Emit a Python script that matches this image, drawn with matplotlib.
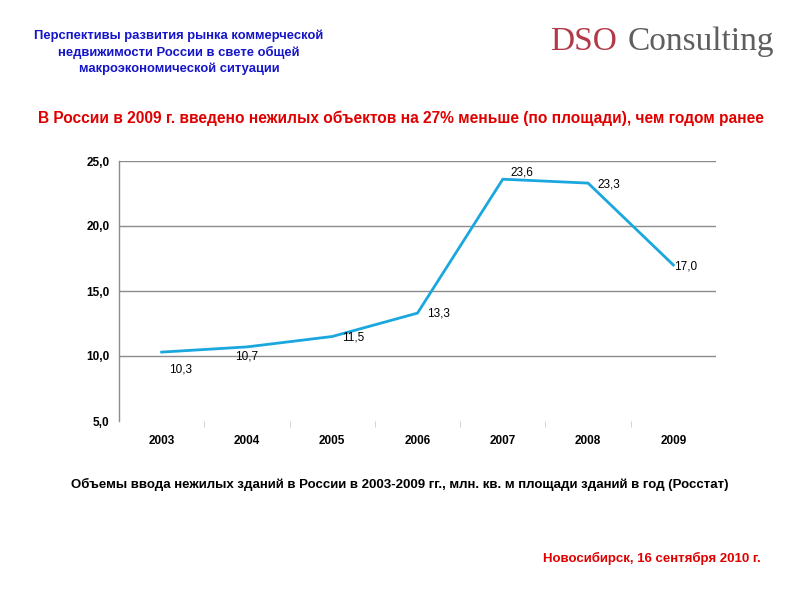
import matplotlib
matplotlib.use("Agg")
import matplotlib.pyplot as plt
import numpy as np

years = ["2003", "2004", "2005", "2006", "2007", "2008", "2009"]
values = [10.3, 10.7, 11.5, 13.3, 23.6, 23.3, 17.0]
value_labels = ["10,3", "10,7", "11,5", "13,3", "23,6", "23,3", "17,0"]
yticks = [5.0, 10.0, 15.0, 20.0, 25.0]
ytick_labels = ["5,0", "10,0", "15,0", "20,0", "25,0"]

# label offsets in pixels (dx, dy up)
offsets_px = [(19, -17), (0, -10), (21, -1), (21, 0), (19, 7), (21, -1.5), (12, -1.5)]

plt.rcParams['font.family'] = ['Liberation Sans', 'DejaVu Sans']

fig = plt.figure(figsize=(8, 6), dpi=100)
fig.patch.set_facecolor('white')
ax = fig.add_axes([119/800, 1-421/600, (716-119)/800, (421-161)/600])

x = np.arange(len(years))
ax.plot(x, values, color='#1AA7DD', linewidth=2, solid_joinstyle='miter')

for xi, v, lab, (dx, dy) in zip(x, values, value_labels, offsets_px):
    ax.annotate(lab, (xi, v), xytext=(dx*0.72, dy*0.72), textcoords='offset points',
                ha='center', va='center', fontsize=8.5, color='black')

ax.set_xlim(-0.5, len(years)-0.5)
ax.set_ylim(5, 25)
ax.set_yticks(yticks)
ax.set_yticklabels(ytick_labels, fontsize=8.5, fontweight='bold')
ax.set_xticks(x)
ax.set_xticklabels(years, fontsize=8.5, fontweight='bold')
ax.set_xticks(np.arange(0.5, len(years)-1, 1), minor=True)
ax.tick_params(axis='y', length=0, pad=7)
ax.tick_params(axis='x', which='major', length=0, pad=10)
ax.tick_params(axis='x', which='minor', length=4, color='#CCCCCC', direction='out')
for yt in yticks[1:]:
    ax.axhline(yt, color='#8C8C8C', linewidth=1, zorder=0)
for s in ['top', 'right', 'bottom']:
    ax.spines[s].set_visible(False)
ax.spines['left'].set_color('#8C8C8C')
ax.spines['left'].set_linewidth(1)

# Header title
fig.text(179/800, 1-52/600, "Перспективы развития рынка коммерческой\nнедвижимости России в свете общей\nмакроэкономической ситуации",
         ha='center', va='center', fontsize=9.4, fontweight='bold', color='#1414C8', linespacing=1.37)

# Logo
fig.text(550/800, 1-42/600, "DSO", ha='left', va='center', fontsize=24,
         family=['Liberation Serif', 'DejaVu Serif'], color='#B23A48')
fig.text(628/800, 1-42/600, "Consulting", ha='left', va='center', fontsize=24,
         family=['Liberation Serif', 'DejaVu Serif'], color='#5F5F5F')

# Red subtitle
fig.text(401/800, 1-118/600, "В России в 2009 г. введено нежилых объектов на 27% меньше (по площади), чем годом ранее",
         ha='center', va='center', fontsize=11.2, fontweight='bold', color='#E00000')

# Caption
fig.text(400/800, 1-484/600, "Объемы ввода нежилых зданий в России в 2003-2009 гг., млн. кв. м площади зданий в год (Росстат)",
         ha='center', va='center', fontsize=9.5, fontweight='bold', color='black')

# Footer
fig.text(652/800, 1-558/600, "Новосибирск, 16 сентября 2010 г.",
         ha='center', va='center', fontsize=9.5, fontweight='bold', color='#E00000')

fig.savefig("out.png", dpi=100)
